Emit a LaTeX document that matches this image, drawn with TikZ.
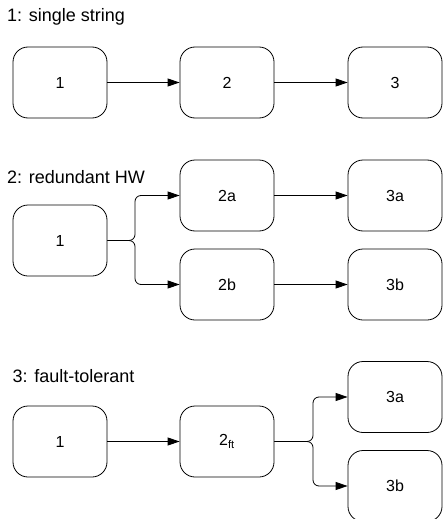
\documentclass[tikz,border=0pt]{standalone}
\usepackage{fontspec}
\setmainfont{Liberation Sans}
\usetikzlibrary{arrows.meta}
\tikzset{
  blk/.style={draw, line width=0.8pt, rounded corners=15pt, minimum width=94pt, minimum height=71pt, inner sep=0pt, font=\fontsize{16}{18}\selectfont},
  ttl/.style={anchor=base west, inner sep=0pt, font=\fontsize{18}{20}\selectfont},
  conn/.style={draw, line width=0.8pt, -{Triangle[length=12pt,width=8pt]}},
  branch/.style={conn, rounded corners=6pt}
}
\begin{document}
\begin{tikzpicture}[x=1pt,y=-1pt]
\useasboundingbox (0,0) rectangle (443,519);
% section 1
\node[ttl] (t1) at (7,21.7) {1: single string};
\node[blk] (a1) at (60,82.5) {1};
\node[blk] (a2) at (227,82.5) {2};
\node[blk] (a3) at (395,82.5) {3};
\draw[conn] (a1) -- (a2);
\draw[conn] (a2) -- (a3);
% section 2
\node[ttl] (t2) at (7,183) {2: redundant HW};
\node[blk] (b1) at (60,240.5) {1};
\node[blk] (b2a) at (227,195.5) {2a};
\node[blk] (b2b) at (227,284.5) {2b};
\node[blk] (b3a) at (395,195.5) {3a};
\node[blk] (b3b) at (395,284.5) {3b};
\coordinate (bj) at (135,240.5);
\draw[branch] (b1.east) -- (bj) |- (b2a.west);
\draw[branch] (b1.east) -- (bj) |- (b2b.west);
\draw[conn] (b2a) -- (b3a);
\draw[conn] (b2b) -- (b3b);
% section 3
\node[ttl] (t3) at (12.5,382) {3: fault-tolerant};
\node[blk] (c1) at (60,441.5) {1};
\node[blk] (c2) at (227,441.5) {2\textsubscript{ft}};
\node[blk] (c3a) at (395,397) {3a};
\node[blk] (c3b) at (395,486) {3b};
\coordinate (cj) at (313,441.5);
\draw[conn] (c1) -- (c2);
\draw[branch] (c2.east) -- (cj) |- (c3a.west);
\draw[branch] (c2.east) -- (cj) |- (c3b.west);
\end{tikzpicture}
\end{document}
